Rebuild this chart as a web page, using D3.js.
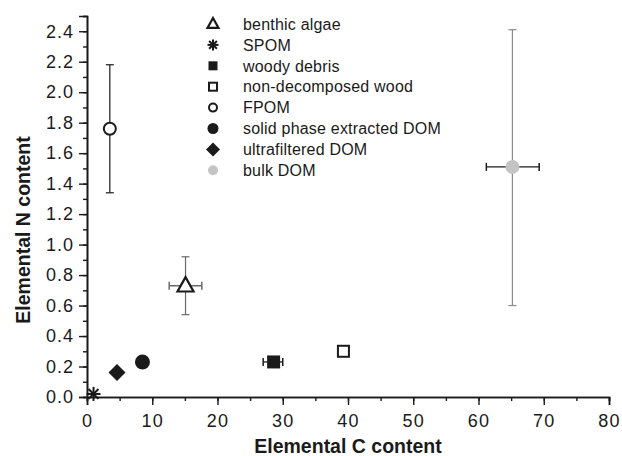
<!DOCTYPE html>
<html>
<head>
<meta charset="utf-8">
<script src="https://cdn.jsdelivr.net/npm/d3@7"></script>
<style>
  body { margin: 0; background: #fff; }
  svg { font-family: Arial, "Liberation Sans", Helvetica, sans-serif; }
</style>
</head>
<body>
<div id="chart"></div>
<script>
// sample names, in legend order
const names = ["benthic algae", "SPOM", "woody debris", "non-decomposed wood", "FPOM",
               "solid phase extracted DOM", "ultrafiltered DOM", "bulk DOM"];
// elemental C and N content (mean)
const cValues = [15.1, 1.0, 28.6, 39.3, 3.5, 8.5, 4.6, 65.2];
const nValues = [0.73, 0.02, 0.23, 0.30, 1.76, 0.23, 0.16, 1.51];
// error ranges [low, high] or null
const cErr = [[12.6, 17.6], null, [27.0, 30.0], null, null, [7.9, 9.1], null, [61.2, 69.3]];
const nErr = [[0.54, 0.92], null, null, null, [1.34, 2.18], null, null, [0.60, 2.41]];
const symbolTypes = ["triangle", "asterisk", "square", "squareOpen", "circleOpen", "circle", "diamond", "circleGrey"];

const xTicks = [0, 10, 20, 30, 40, 50, 60, 70, 80];
const yTicks = [0, 0.2, 0.4, 0.6, 0.8, 1.0, 1.2, 1.4, 1.6, 1.8, 2.0, 2.2, 2.4];

const W = 622, H = 456;
const margin = { left: 87, right: 13, top: 16, bottom: 59 };

const svg = d3.select("#chart").append("svg")
    .attr("width", W).attr("height", H);

const x = d3.scaleLinear().domain([0, 80]).range([margin.left, W - margin.right]);
const y = d3.scaleLinear().domain([0, 2.5]).range([H - margin.bottom, margin.top]);

const ink = "#1a1a1a";

// x axis: minor ticks every 5, major every 10
const xg = svg.append("g").attr("transform", `translate(0,${y(0)})`);
xg.call(d3.axisBottom(x).tickValues(d3.range(0, 81, 5)).tickSize(4).tickFormat(""));
xg.call(g => g.append("g").call(d3.axisBottom(x).tickValues(xTicks).tickSize(8).tickFormat(d3.format("d"))));
xg.selectAll("path.domain").attr("stroke", ink).attr("stroke-width", 1.6);
xg.selectAll("line").attr("stroke", ink).attr("stroke-width", 1.4);
xg.selectAll("text").attr("fill", ink).attr("font-size", 18)
    .attr("letter-spacing", 1.2).attr("dy", "1.05em");

// y axis: minor every 0.1, major every 0.2
const yg = svg.append("g").attr("transform", `translate(${x(0)},0)`);
yg.call(d3.axisLeft(y).tickValues(d3.range(0, 26).map(i => i / 10)).tickSize(4).tickFormat(""));
yg.call(g => g.append("g").call(d3.axisLeft(y).tickValues(yTicks).tickSize(8).tickFormat(d3.format(".1f"))));
yg.selectAll("path.domain").attr("stroke", ink).attr("stroke-width", 1.6);
yg.selectAll("line").attr("stroke", ink).attr("stroke-width", 1.4);
yg.selectAll("text").attr("fill", ink).attr("font-size", 18)
    .attr("letter-spacing", 1).attr("x", -13);

svg.append("text")
    .attr("x", 348).attr("y", 453)
    .attr("text-anchor", "middle").attr("font-size", 19.5).attr("font-weight", "bold")
    .attr("fill", ink).text("Elemental C content");

svg.append("text")
    .attr("transform", `translate(30,230) rotate(-90)`)
    .attr("text-anchor", "middle").attr("font-size", 19.5).attr("font-weight", "bold")
    .attr("fill", ink).text("Elemental N content");

function drawSymbol(g, type, cx, cy, s) {
    if (type === "triangle") {
        const h = s * 0.9;
        g.append("path")
            .attr("d", `M${cx},${cy - h * 0.6}L${cx + s / 2},${cy + h * 0.4}L${cx - s / 2},${cy + h * 0.4}Z`)
            .attr("fill", "#fff").attr("stroke", ink).attr("stroke-width", 2.2);
    } else if (type === "asterisk") {
        const r = s / 2;
        for (let a = 0; a < 180; a += 45) {
            const rad = a * Math.PI / 180;
            g.append("line")
                .attr("x1", cx - r * Math.cos(rad)).attr("y1", cy - r * Math.sin(rad))
                .attr("x2", cx + r * Math.cos(rad)).attr("y2", cy + r * Math.sin(rad))
                .attr("stroke", ink).attr("stroke-width", 2);
        }
    } else if (type === "square") {
        g.append("rect").attr("x", cx - s / 2).attr("y", cy - s / 2).attr("width", s).attr("height", s)
            .attr("fill", ink);
    } else if (type === "squareOpen") {
        g.append("rect").attr("x", cx - s / 2 + 1).attr("y", cy - s / 2 + 1).attr("width", s - 2).attr("height", s - 2)
            .attr("fill", "#fff").attr("stroke", ink).attr("stroke-width", 2);
    } else if (type === "circleOpen") {
        g.append("circle").attr("cx", cx).attr("cy", cy).attr("r", s / 2 - 1)
            .attr("fill", "#fff").attr("stroke", ink).attr("stroke-width", 2);
    } else if (type === "circle") {
        g.append("circle").attr("cx", cx).attr("cy", cy).attr("r", s / 2).attr("fill", ink);
    } else if (type === "diamond") {
        const r = s / 2 + 1;
        g.append("path").attr("d", `M${cx},${cy - r}L${cx + r},${cy}L${cx},${cy + r}L${cx - r},${cy}Z`)
            .attr("fill", ink);
    } else if (type === "circleGrey") {
        g.append("circle").attr("cx", cx).attr("cy", cy).attr("r", s / 2).attr("fill", "#c4c4c4");
    }
}

// error bars
const eg = svg.append("g");
names.forEach((n, i) => {
    const cx = x(cValues[i]), cy = y(nValues[i]);
    const vCol = i === 7 ? "#8a8a8a" : (i === 0 ? "#6a6a6a" : ink);
    const hCol = i === 0 ? "#6a6a6a" : ink;
    if (nErr[i]) {
        const [lo, hi] = nErr[i];
        eg.append("line").attr("x1", cx).attr("x2", cx).attr("y1", y(lo)).attr("y2", y(hi))
            .attr("stroke", vCol).attr("stroke-width", 1.2);
        [lo, hi].forEach(v => eg.append("line")
            .attr("x1", cx - 4).attr("x2", cx + 4).attr("y1", y(v)).attr("y2", y(v))
            .attr("stroke", vCol).attr("stroke-width", 1.2));
    }
    if (cErr[i]) {
        const [lo, hi] = cErr[i];
        eg.append("line").attr("x1", x(lo)).attr("x2", x(hi)).attr("y1", cy).attr("y2", cy)
            .attr("stroke", hCol).attr("stroke-width", 1.3);
        [lo, hi].forEach(v => eg.append("line")
            .attr("x1", x(v)).attr("x2", x(v)).attr("y1", cy - 4).attr("y2", cy + 4)
            .attr("stroke", hCol).attr("stroke-width", 1.5));
    }
});

// points
const pg = svg.append("g");
const pointSize = [16, 14, 13, 13, 14, 15, 15, 14];
names.forEach((n, i) => drawSymbol(pg, symbolTypes[i], x(cValues[i]), y(nValues[i]), pointSize[i]));

// legend
const lg = svg.append("g");
const legendSize = [11, 11, 9, 10, 10, 11, 12, 10];
names.forEach((n, i) => {
    const ly = 24 + i * 20.9;
    drawSymbol(lg, symbolTypes[i], 213, ly, legendSize[i]);
    lg.append("text").attr("x", 243).attr("y", ly).attr("dy", "0.36em")
        .attr("font-size", 16).attr("letter-spacing", 0.2).attr("fill", ink).text(n);
});
</script>
</body>
</html>
